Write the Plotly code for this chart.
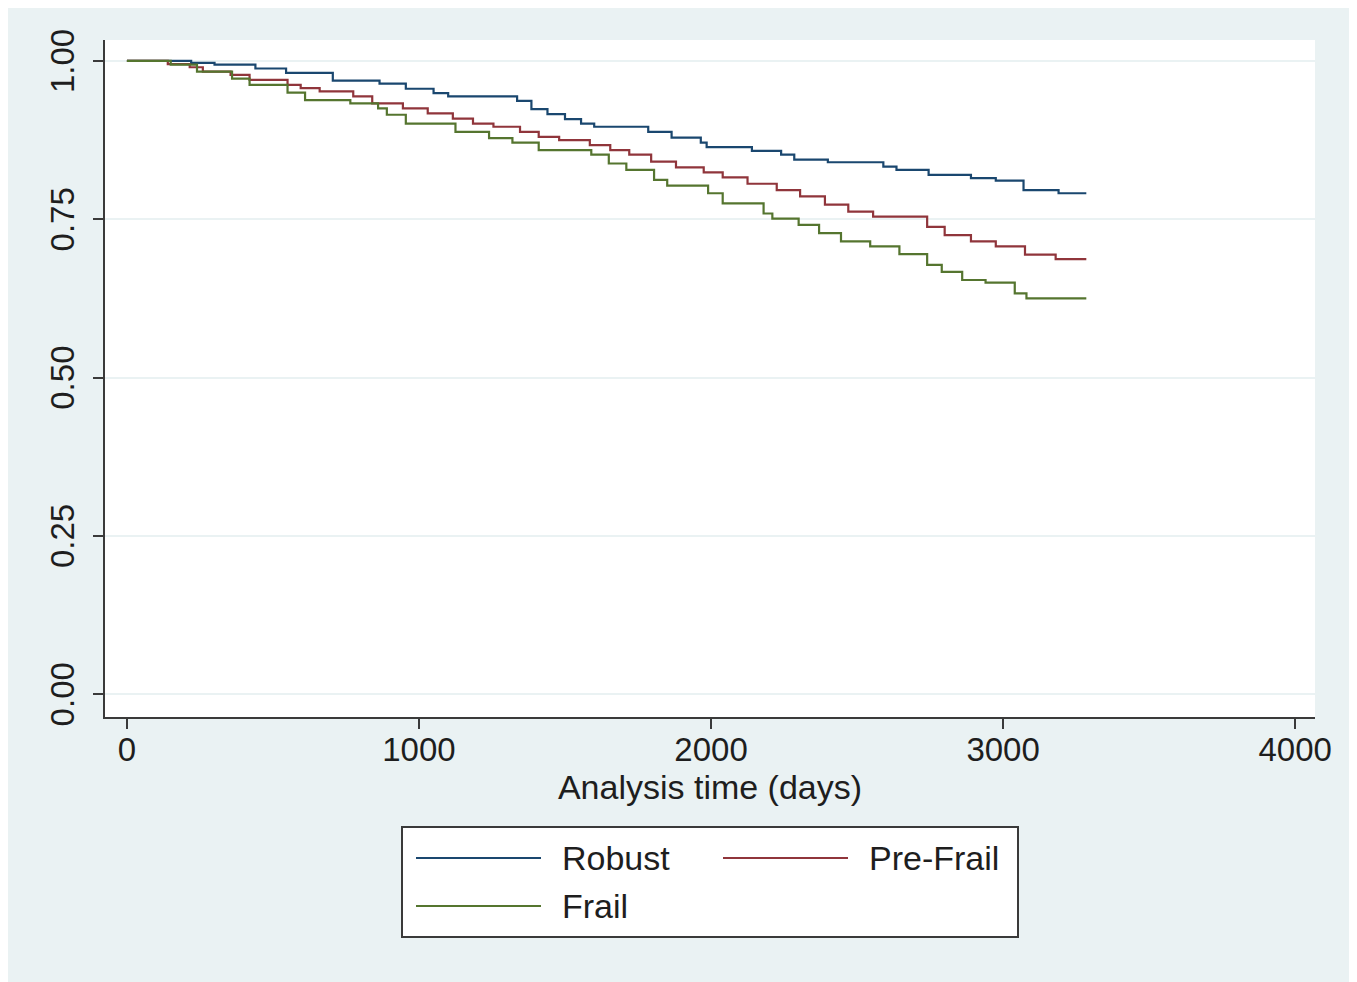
import plotly.graph_objects as go

# ---- data ----
group_names = ["Robust", "Pre-Frail", "Frail"]
group_colors = ["#1a476f", "#90353b", "#55752f"]

robust_t = [0, 220, 300, 440, 545, 705, 865, 955, 1050, 1100, 1336, 1385, 1440, 1500, 1555, 1600,
            1785, 1865, 1965, 1985, 2140, 2240, 2285, 2400, 2590, 2635, 2745, 2890, 2975, 3070, 3190, 3285]
robust_s = [1.000, 0.997, 0.994, 0.988, 0.981, 0.969, 0.964, 0.956, 0.949, 0.944, 0.937, 0.924, 0.916,
            0.908, 0.901, 0.896, 0.888, 0.879, 0.871, 0.864, 0.858, 0.852, 0.844, 0.840, 0.833, 0.828,
            0.820, 0.815, 0.811, 0.796, 0.791, 0.791]

prefrail_t = [0, 140, 215, 260, 355, 420, 550, 595, 660, 775, 840, 945, 1030, 1116, 1185, 1255, 1346,
              1410, 1480, 1585, 1655, 1720, 1795, 1880, 1975, 2040, 2125, 2225, 2305, 2390, 2470, 2555,
              2740, 2800, 2890, 2975, 3075, 3180, 3285]
prefrail_s = [1.000, 0.995, 0.990, 0.983, 0.978, 0.970, 0.962, 0.957, 0.952, 0.944, 0.933, 0.925,
              0.917, 0.909, 0.901, 0.896, 0.888, 0.880, 0.875, 0.867, 0.859, 0.852, 0.841, 0.832,
              0.824, 0.816, 0.806, 0.796, 0.786, 0.773, 0.762, 0.754, 0.738, 0.725, 0.715, 0.707,
              0.694, 0.687, 0.687]

frail_t = [0, 150, 240, 360, 420, 550, 610, 765, 860, 890, 955, 1125, 1240, 1320, 1410, 1590, 1650,
           1710, 1805, 1850, 1990, 2040, 2180, 2210, 2300, 2370, 2445, 2545, 2645, 2740, 2790, 2860,
           2940, 3040, 3080, 3285]
frail_s = [1.000, 0.994, 0.983, 0.972, 0.962, 0.950, 0.938, 0.933, 0.925, 0.915, 0.901, 0.888,
           0.878, 0.871, 0.859, 0.852, 0.838, 0.828, 0.812, 0.803, 0.791, 0.775, 0.759, 0.751,
           0.741, 0.728, 0.715, 0.707, 0.695, 0.678, 0.667, 0.654, 0.650, 0.633, 0.625, 0.625]

x_ticks = [0, 1000, 2000, 3000, 4000]
y_ticks = [0.00, 0.25, 0.50, 0.75, 1.00]
x_title = "Analysis time (days)"

series_t = [robust_t, prefrail_t, frail_t]
series_s = [robust_s, prefrail_s, frail_s]

# ---- layout geometry (page pixels; page body has an 8px margin) ----
OFF = 8
W, H = 1342, 974
ML, MT = 105 - OFF, 40 - OFF
MR = (OFF + W) - 1315
MB = (OFF + H) - 717
PW, PH = W - ML - MR, H - MT - MB
FONT = "Liberation Sans, Arial, Helvetica, sans-serif"
TXT = "#1e1e1e"
BG = "#eaf2f3"
AX = "#3a3a3a"


def px_x(p):
    return (p - OFF - ML) / PW


def px_y(p):
    return (OFF + H - MB - p) / PH


fig = go.Figure()
for name, col, t, s in zip(group_names, group_colors, series_t, series_s):
    fig.add_trace(go.Scatter(x=t, y=s, mode="lines", name=name, showlegend=False,
                             line=dict(color=col, width=2.2, shape="hv")))

shapes = [
    # white plot region
    dict(type="rect", xref="paper", yref="paper", layer="below",
         x0=0, x1=1, y0=0, y1=1, fillcolor="white", line=dict(width=0)),
    # legend box
    dict(type="rect", xref="paper", yref="paper",
         x0=px_x(402), x1=px_x(1018), y0=px_y(937), y1=px_y(827),
         fillcolor="white", line=dict(color=AX, width=2)),
]
annotations = []
legend_pos = [(416, 858), (723, 858), (416, 906)]
for (lx, ly), name, col in zip(legend_pos, group_names, group_colors):
    shapes.append(dict(type="line", xref="paper", yref="paper",
                       x0=px_x(lx), x1=px_x(lx + 125), y0=px_y(ly), y1=px_y(ly),
                       line=dict(color=col, width=2)))
    annotations.append(dict(xref="paper", yref="paper", x=px_x(lx + 144), y=px_y(ly),
                            xanchor="left", yanchor="middle", showarrow=False, text=name,
                            font=dict(family=FONT, size=34, color=TXT)))

fig.update_layout(
    width=W, height=H,
    margin=dict(l=ML, r=MR, t=MT, b=MB, pad=0),
    paper_bgcolor=BG, plot_bgcolor="white",
    font=dict(family=FONT, size=33, color=TXT),
    showlegend=False,
    shapes=shapes,
    annotations=annotations,
    xaxis=dict(range=[-75, 4068], tickvals=x_ticks, ticktext=[str(v) for v in x_ticks],
               showgrid=False, zeroline=False, showline=True, linecolor=AX, linewidth=2,
               ticks="outside", ticklen=10, tickwidth=1.5, tickcolor=AX,
               tickfont=dict(size=33, color=TXT), ticklabelstandoff=-8,
               title=dict(text=x_title, font=dict(size=34, color=TXT), standoff=0),
               automargin=False),
    yaxis=dict(range=[-0.036, 1.033], tickvals=y_ticks, ticktext=[f"{v:.2f}" for v in y_ticks],
               showgrid=True, gridcolor=BG, gridwidth=2, zeroline=False,
               showline=True, linecolor=AX, linewidth=2,
               ticks="outside", ticklen=10, tickwidth=1.5, tickcolor=AX,
               tickangle=-90, tickfont=dict(size=33, color=TXT), ticklabelstandoff=6,
               ticklabelshift=5,
               automargin=False),
)

fig.write_html("out.html")
